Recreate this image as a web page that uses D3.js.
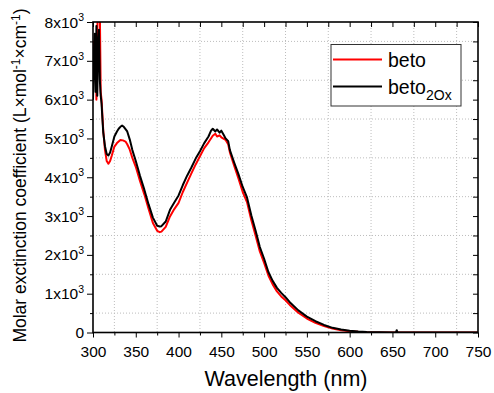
<!DOCTYPE html>
<html>
<head>
<meta charset="utf-8">
<script src="https://cdn.jsdelivr.net/npm/d3@7"></script>
<style>
  body { margin: 0; background: #fff; }
  svg { font-family: "Liberation Sans", Arial, sans-serif; }
</style>
</head>
<body>
<svg id="canvas" width="494" height="393"></svg>
<script>
// wavelength (nm) and molar extinction coefficient
const lambdaBeto = [300,301,302,303,304,305,306,307,308,309,310,311,312,314,316,318,320,322,325,328,330,332,335,338,340,343,346,350,355,360,365,370,375,378,380,385,390,395,400,405,410,415,420,425,430,435,440,443,445,448,450,453,455,458,460,465,470,475,480,485,490,495,500,505,510,515,520,525,530,540,550,560,570,580,590,600,610,620,650,700,750];
const beto = [6300,7500,6800,7600,6000,7800,8400,8600,8300,6200,6000,5600,5200,4700,4420,4350,4420,4560,4790,4880,4920,4960,4950,4920,4850,4710,4500,4270,3900,3560,3180,2820,2620,2585,2600,2720,2990,3180,3340,3620,3860,4100,4330,4540,4750,4900,5070,5120,5050,5080,5030,4990,4960,4850,4640,4300,3970,3620,3360,2900,2500,2090,1790,1470,1240,1060,930,830,710,510,360,250,165,100,60,35,18,8,0,0,0];

const lambdaOx = [300,301,302,303,304,305,306,307,308,309,310,311,312,314,316,318,320,322,325,328,330,332,334,336,338,340,343,346,350,355,360,365,370,375,378,380,385,390,395,400,405,410,415,420,425,430,435,438,440,443,445,448,450,453,455,458,460,465,470,475,480,485,490,495,500,505,510,515,520,525,530,540,550,560,570,580,590,600,610,620,635,650,654,655,656,700,750];
const betoOx = [6000,7200,7700,6200,7900,6100,7400,7800,6500,6100,5900,5500,5150,4800,4600,4560,4640,4800,5050,5180,5250,5300,5330,5300,5240,5180,4970,4700,4420,4030,3680,3300,2960,2750,2730,2740,2860,3160,3350,3530,3800,4040,4250,4480,4670,4880,5050,5200,5250,5180,5230,5150,5200,5080,5000,4930,4700,4380,4080,3750,3480,3020,2630,2200,1900,1560,1330,1150,1020,910,780,570,410,290,195,120,75,45,25,12,4,0,0,60,0,0,0];

const xTicks = [300,350,400,450,500,550,600,650,700,750];
const yTicks = [0,1000,2000,3000,4000,5000,6000,7000,8000];
const seriesNames = ["beto", "beto"];
const seriesSubs = ["", "2Ox"];
const seriesColors = ["#ff0000", "#000000"];

const svg = d3.select("#canvas");
const pL = 93, pR = 478, pT = 22, pB = 332.5;

const x = d3.scaleLinear().domain([300, 750]).range([pL, pR]);
const y = d3.scaleLinear().domain([0, 8000]).range([pB, pT]);

svg.append("defs").append("clipPath").attr("id", "plotclip")
  .append("rect")
  .attr("x", pL).attr("y", pT)
  .attr("width", pR - pL).attr("height", pB - pT);

// dotted grid on the minor positions
const gridX = d3.range(325, 750, 50);
const gridY = d3.range(500, 8000, 1000);
svg.append("g").selectAll("line").data(gridX).enter().append("line")
  .attr("x1", d => x(d)).attr("x2", d => x(d))
  .attr("y1", pT).attr("y2", pB)
  .attr("stroke", "#bdbdbd").attr("stroke-width", 1)
  .attr("stroke-dasharray", "1,2");
svg.append("g").selectAll("line").data(gridY).enter().append("line")
  .attr("x1", pL).attr("x2", pR)
  .attr("y1", d => y(d)).attr("y2", d => y(d))
  .attr("stroke", "#bdbdbd").attr("stroke-width", 1)
  .attr("stroke-dasharray", "1,2");

// curves
const line = d3.line().x(d => x(d[0])).y(d => y(d[1]));
const plot = svg.append("g").attr("clip-path", "url(#plotclip)");
plot.append("path")
  .datum(d3.zip(lambdaBeto, beto))
  .attr("d", line)
  .attr("fill", "none").attr("stroke", seriesColors[0]).attr("stroke-width", 2)
  .attr("stroke-linejoin", "round");
plot.append("path")
  .datum(d3.zip(lambdaOx, betoOx))
  .attr("d", line)
  .attr("fill", "none").attr("stroke", seriesColors[1]).attr("stroke-width", 2)
  .attr("stroke-linejoin", "round");

// axes
const xAll = d3.range(300, 751, 25);
const yAll = d3.range(0, 8001, 500);

const xBottom = svg.append("g").attr("transform", `translate(0,${pB})`)
  .call(d3.axisBottom(x).tickValues(xAll)
    .tickSize(4).tickFormat(d => xTicks.includes(d) ? d : ""));
const xTop = svg.append("g").attr("transform", `translate(0,${pT})`)
  .call(d3.axisBottom(x).tickValues(xAll).tickSize(5).tickFormat(""));
const yLeft = svg.append("g").attr("transform", `translate(${pL},0)`)
  .call(d3.axisLeft(y).tickValues(yAll)
    .tickSize(5).tickFormat(""));
const yRight = svg.append("g").attr("transform", `translate(${pR},0)`)
  .call(d3.axisLeft(y).tickValues(yAll).tickSize(5).tickFormat(""));

[xBottom, xTop, yLeft, yRight].forEach(g => {
  g.select(".domain").remove();
  g.selectAll(".tick line").attr("stroke", "#000").attr("stroke-width", 1);
});
yLeft.selectAll(".tick line").attr("x2", d => yTicks.includes(d) ? -6 : -3);
xBottom.selectAll(".tick line").attr("y2", d => xTicks.includes(d) ? 5 : 3);
xBottom.selectAll(".tick text")
  .attr("font-size", 15.5).attr("fill", "#000")
  .attr("font-family", "Liberation Sans, Arial, sans-serif")
  .attr("dy", 0).attr("y", 24);

// y tick labels with powers of ten
const yLab = svg.append("g").selectAll("text").data(yTicks).enter().append("text")
  .attr("x", pL - 9).attr("y", d => y(d) + 5.5)
  .attr("text-anchor", "end").attr("font-size", 15.5).attr("fill", "#000");
yLab.each(function(d) {
  const t = d3.select(this);
  if (d === 0) { t.text("0"); return; }
  t.append("tspan").text(`${d / 1000}x10`);
  t.append("tspan").attr("font-size", 10.5).attr("dy", -6.5).text("3");
});

// frame
svg.append("rect")
  .attr("x", pL).attr("y", pT)
  .attr("width", pR - pL).attr("height", pB - pT)
  .attr("fill", "none").attr("stroke", "#000").attr("stroke-width", 1.6);

// axis titles
svg.append("text")
  .attr("x", 286).attr("y", 386)
  .attr("text-anchor", "middle").attr("font-size", 21.5).attr("fill", "#000")
  .text("Wavelength (nm)");

const yTitle = svg.append("text")
  .attr("transform", "translate(26,175.5) rotate(-90)")
  .attr("text-anchor", "middle").attr("font-size", 17.5).attr("fill", "#000");
yTitle.append("tspan").text("Molar exctinction coefficient (L×mol");
yTitle.append("tspan").attr("font-size", 12).attr("dy", -6.5).text("-1");
yTitle.append("tspan").attr("dy", 6.5).text("×cm");
yTitle.append("tspan").attr("font-size", 12).attr("dy", -6.5).text("-1");
yTitle.append("tspan").attr("dy", 6.5).text(")");

// legend
const legend = svg.append("g");
legend.append("rect")
  .attr("x", 331).attr("y", 44.5).attr("width", 130).attr("height", 61.5)
  .attr("fill", "#fff").attr("stroke", "#333").attr("stroke-width", 1);
seriesNames.forEach((name, i) => {
  const ly = 59.5 + i * 27;
  legend.append("line")
    .attr("x1", 333).attr("x2", 382).attr("y1", ly).attr("y2", ly)
    .attr("stroke", seriesColors[i]).attr("stroke-width", 2);
  const t = legend.append("text")
    .attr("x", 388).attr("y", ly + 7)
    .attr("font-size", 19.5).attr("fill", "#000");
  t.append("tspan").text(name);
  if (seriesSubs[i]) {
    t.append("tspan").attr("font-size", 14).attr("dy", 6).text(seriesSubs[i]);
  }
});
</script>
</body>
</html>
